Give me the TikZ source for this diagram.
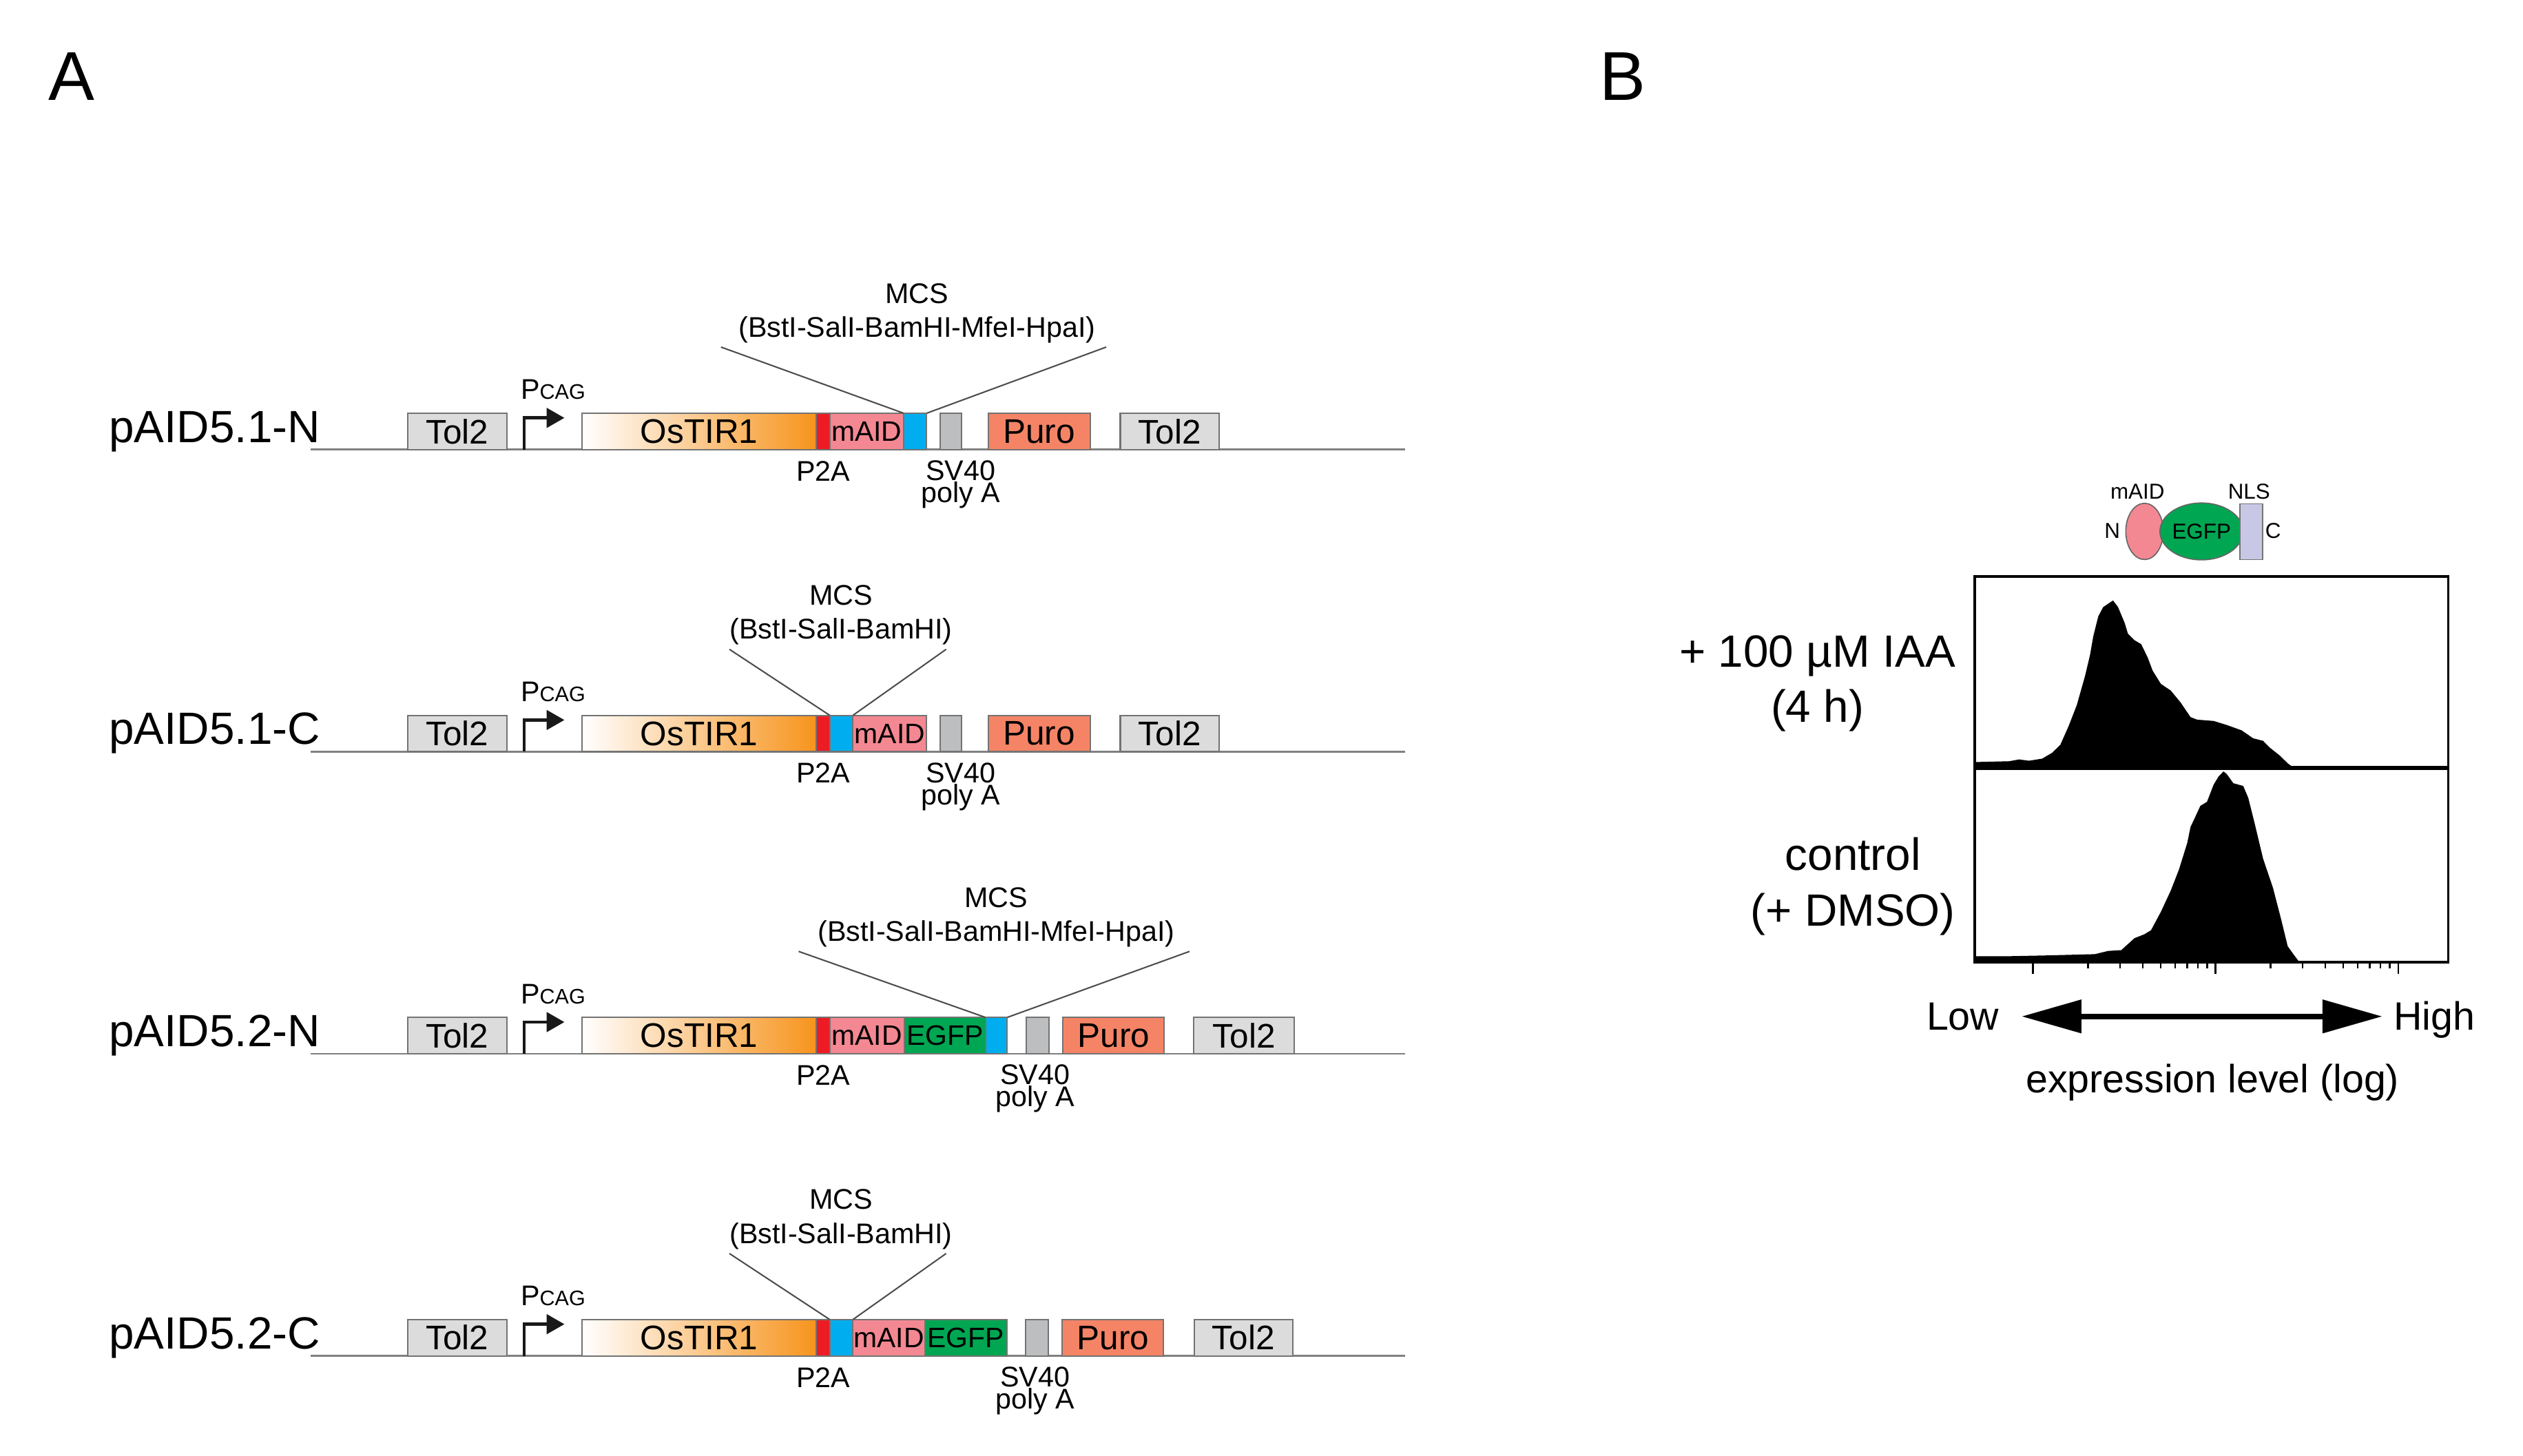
\documentclass[tikz,border=0pt]{standalone}
\usepackage{fontspec}
\setmainfont{Liberation Sans}
\usetikzlibrary{arrows.meta,shapes.geometric}
\definecolor{tolgray}{HTML}{DCDCDC}
\definecolor{tirorange}{HTML}{F7941D}
\definecolor{p2ared}{HTML}{ED1C24}
\definecolor{aidpink}{HTML}{F48892}
\definecolor{mcsblue}{HTML}{00AEEF}
\definecolor{svgray}{HTML}{BCBEC0}
\definecolor{puroorange}{HTML}{F58466}
\definecolor{gfpgreen}{HTML}{00A651}
\definecolor{nlsblue}{HTML}{C8C8E6}

\begin{document}
\begin{tikzpicture}[x=0.2mm, y=-0.2mm,
      every node/.style={inner sep=0pt, outer sep=0pt},
      part/.style={draw=black!55, line width=0.5pt, minimum height=4.5mm, anchor=south west,
        font=\fontsize{12}{14}\selectfont},
      bw/.style={minimum width=#1*0.2mm},
      tolbox/.style={part, fill=tolgray},
      tirbox/.style={part, left color=white, right color=tirorange},
      p2abox/.style={part, fill=p2ared},
      aidbox/.style={part, fill=aidpink, font=\fontsize{9.9}{11}\selectfont},
      gfpbox/.style={part, fill=gfpgreen, font=\fontsize{9.9}{11}\selectfont},
      mcsbox/.style={part, fill=mcsblue},
      svbox/.style={part, fill=svgray},
      purobox/.style={part, fill=puroorange},
      dna/.style={draw=black!50, line width=0.7pt},
      mcsline/.style={draw=black!70, line width=0.5pt},
      prom/.style={draw=black!90, line width=1.1pt, -{Triangle[length=2.2mm, width=2.4mm]}},
      rowname/.style={font=\fontsize{15.9}{19}\selectfont, anchor=base west},
      note/.style={font=\fontsize{10}{12}\selectfont, anchor=base},
      polya/.style={font=\fontsize{10}{7.74}\selectfont, align=center, anchor=north},
      lbl/.style={font=\fontsize{15.9}{19}\selectfont},
      axislbl/.style={font=\fontsize{13.9}{16}\selectfont},
      tinylbl/.style={font=\fontsize{7.6}{9}\selectfont},
      tickmark/.style={line width=0.6pt}
      ]
      \useasboundingbox (0,0) rectangle (1560,899.9);
      \node[font=\fontsize{24.3}{28}\selectfont, anchor=base] (panelA) at (44.4,61.8) {A};
      \node[font=\fontsize{24.3}{28}\selectfont, anchor=base] (panelB) at (1003.3,61.8) {B};

      \draw[dna] (192,278) -- (869,278);
      \node[rowname] (row1) at (67.5,273.5) {pAID5.1-N};
      \node[tolbox, bw=61.6] (tolL1) at (252,278) {Tol2};
      \draw[prom] (324,278) -- (324,258.4) -- (349,258.4);
      \node[note, anchor=base west] (pcag1) at (322,247) {P{\fontsize{7.4}{8}\selectfont CAG}};
      \node[tirbox, bw=144.6] (tir1) at (360,278) {OsTIR1};
      \node[p2abox, bw=8.4] (p2a1) at (504.6,278) {};
      \node[aidbox, bw=45.7] (aid1) at (513,278) {mAID};
      \node[mcsbox, bw=14.3] (mcs1) at (558.7,278) {};
      \node[svbox, bw=13.1] (sv1) at (581.5,278) {};
      \node[purobox, bw=63] (puro1) at (611,278) {Puro};
      \node[tolbox, bw=61] (tolR1) at (692.7,278) {Tol2};
      \node[note] (mcst1) at (567,187.4) {MCS};
      \node[note] (mcss1) at (567,208.4) {(BstI-SalI-BamHI-MfeI-HpaI)};
      \coordinate (mcsl1) at (445.8,214.6);
      \coordinate (mcsr1) at (684,214.6);
      \draw[mcsline] (mcsl1) -- (mcs1.north west);
      \draw[mcsline] (mcsr1) -- (mcs1.north east);
      \node[note] (p2at1) at (509,297.4) {P2A};
      \node[polya] (svt1) at (594,284.8) {SV40\\poly A};

      \draw[dna] (192,464.8) -- (869,464.8);
      \node[rowname] (row2) at (67.5,460.3) {pAID5.1-C};
      \node[tolbox, bw=61.6] (tolL2) at (252,464.8) {Tol2};
      \draw[prom] (324,464.8) -- (324,445.2) -- (349,445.2);
      \node[note, anchor=base west] (pcag2) at (322,433.8) {P{\fontsize{7.4}{8}\selectfont CAG}};
      \node[tirbox, bw=144.6] (tir2) at (360,464.8) {OsTIR1};
      \node[p2abox, bw=8.4] (p2a2) at (504.6,464.8) {};
      \node[mcsbox, bw=14.4] (mcs2) at (513,464.8) {};
      \node[aidbox, bw=45.6] (aid2) at (527.4,464.8) {mAID};
      \node[svbox, bw=13.1] (sv2) at (581.5,464.8) {};
      \node[purobox, bw=63] (puro2) at (611,464.8) {Puro};
      \node[tolbox, bw=61] (tolR2) at (692.7,464.8) {Tol2};
      \node[note] (mcst2) at (520,374.2) {MCS};
      \node[note] (mcss2) at (520,395.2) {(BstI-SalI-BamHI)};
      \coordinate (mcsl2) at (451,401.5);
      \coordinate (mcsr2) at (585,401.5);
      \draw[mcsline] (mcsl2) -- (mcs2.north west);
      \draw[mcsline] (mcsr2) -- (mcs2.north east);
      \node[note] (p2at2) at (509,484.2) {P2A};
      \node[polya] (svt2) at (594,471.6) {SV40\\poly A};

      \draw[dna] (192,651.6) -- (869,651.6);
      \node[rowname] (row3) at (67.5,647.1) {pAID5.2-N};
      \node[tolbox, bw=61.6] (tolL3) at (252,651.6) {Tol2};
      \draw[prom] (324,651.6) -- (324,632) -- (349,632);
      \node[note, anchor=base west] (pcag3) at (322,620.6) {P{\fontsize{7.4}{8}\selectfont CAG}};
      \node[tirbox, bw=144.6] (tir3) at (360,651.6) {OsTIR1};
      \node[p2abox, bw=8.4] (p2a3) at (504.6,651.6) {};
      \node[aidbox, bw=46] (aid3) at (513,651.6) {mAID};
      \node[gfpbox, bw=50.3] (gfp3) at (559,651.6) {EGFP};
      \node[mcsbox, bw=13.5] (mcs3) at (609.3,651.6) {};
      \node[svbox, bw=14.1] (sv3) at (634.5,651.6) {};
      \node[purobox, bw=62.5] (puro3) at (657.3,651.6) {Puro};
      \node[tolbox, bw=62] (tolR3) at (738.2,651.6) {Tol2};
      \node[note] (mcst3) at (616,561) {MCS};
      \node[note] (mcss3) at (616,582) {(BstI-SalI-BamHI-MfeI-HpaI)};
      \coordinate (mcsl3) at (493.8,588.3);
      \coordinate (mcsr3) at (735.5,588.3);
      \draw[mcsline] (mcsl3) -- (mcs3.north west);
      \draw[mcsline] (mcsr3) -- (mcs3.north east);
      \node[note] (p2at3) at (509,671) {P2A};
      \node[polya] (svt3) at (640,658.4) {SV40\\poly A};

      \draw[dna] (192,838.4) -- (869,838.4);
      \node[rowname] (row4) at (67.5,833.9) {pAID5.2-C};
      \node[tolbox, bw=61.6] (tolL4) at (252,838.4) {Tol2};
      \draw[prom] (324,838.4) -- (324,818.8) -- (349,818.8);
      \node[note, anchor=base west] (pcag4) at (322,807.4) {P{\fontsize{7.4}{8}\selectfont CAG}};
      \node[tirbox, bw=144.6] (tir4) at (360,838.4) {OsTIR1};
      \node[p2abox, bw=8.4] (p2a4) at (504.6,838.4) {};
      \node[mcsbox, bw=14.4] (mcs4) at (513,838.4) {};
      \node[aidbox, bw=44.4] (aid4) at (527.4,838.4) {mAID};
      \node[gfpbox, bw=50.8] (gfp4) at (571.8,838.4) {EGFP};
      \node[svbox, bw=14.2] (sv4) at (634,838.4) {};
      \node[purobox, bw=62.7] (puro4) at (656.8,838.4) {Puro};
      \node[tolbox, bw=61] (tolR4) at (738.3,838.4) {Tol2};
      \node[note] (mcst4) at (520,747.8) {MCS};
      \node[note] (mcss4) at (520,768.8) {(BstI-SalI-BamHI)};
      \coordinate (mcsl4) at (451,775.1);
      \coordinate (mcsr4) at (585,775.1);
      \draw[mcsline] (mcsl4) -- (mcs4.north west);
      \draw[mcsline] (mcsr4) -- (mcs4.north east);
      \node[note] (p2at4) at (509,857.8) {P2A};
      \node[polya] (svt4) at (640,845.2) {SV40\\poly A};

      \node[tinylbl] (aidtop) at (1321.6,304) {mAID};
      \node[tinylbl] (nlstop) at (1390.6,304) {NLS};
      \node[tinylbl] (nterm) at (1306,328.4) {N};
      \node[tinylbl] (cterm) at (1405.5,328.4) {C};
      \node[ellipse, draw=black!60, fill=aidpink, minimum width=23.2*0.2mm, minimum height=34.8*0.2mm] (paid) at (1326,328.6) {};
      \node[ellipse, draw=black!60, fill=gfpgreen, minimum width=47.2*0.2mm, minimum height=35.2*0.2mm, tinylbl] (pgfp) at (1361.2,328.6) {EGFP};
      \node[draw=black!55, fill=nlsblue, minimum width=14.2*0.2mm, minimum height=34.5*0.2mm, anchor=north west] (pnls) at (1384.9,311.6) {};

      \fill (1221.9,475) -- (1221.9,471.2) -- (1242.3,470.7) -- (1248.4,469.6) -- (1254.6,470.4)
        -- (1262.7,469.1) -- (1268.8,465.5) -- (1273.9,460.6) -- (1279,449.1) -- (1284.1,436)
        -- (1289.2,418) -- (1292.3,404.9) -- (1294.3,393.4) -- (1297.4,381.1) -- (1300.4,375.4)
        -- (1306.5,371.3) -- (1309.6,375.4) -- (1313.7,385.2) -- (1315.7,391.8) -- (1319.8,395.9)
        -- (1323.9,398.3) -- (1327.9,406.5) -- (1331,414.7) -- (1336.1,422.9) -- (1342.2,427)
        -- (1348.3,434.4) -- (1354.4,443.4) -- (1358.5,445) -- (1368.7,445.8) -- (1376.8,448.3)
        -- (1386,451.6) -- (1393.1,456.5) -- (1399.3,458.1) -- (1403.3,462.2) -- (1409.5,467.1)
        -- (1414.5,472) -- (1418.6,475) -- cycle;
      \fill (1221.9,594.9) -- (1221.9,591.3) -- (1240.3,591.3) -- (1264.8,590.8) -- (1295.3,590)
        -- (1303.5,588) -- (1311.6,587.5) -- (1319.8,580.1) -- (1325.9,577.7) -- (1330,575.2)
        -- (1336.1,563.8) -- (1342.2,550.7) -- (1347.3,537.6) -- (1352.4,521.2) -- (1354.4,511.4)
        -- (1357.5,504.8) -- (1360.5,498.3) -- (1364.6,495.8) -- (1368.7,485.2) -- (1371.7,480.2)
        -- (1374.8,477) -- (1376.8,478.6) -- (1380.9,484.3) -- (1387,486) -- (1390.1,493.3)
        -- (1394.2,509.7) -- (1399.3,531) -- (1405.4,549) -- (1410.5,568.7) -- (1414.5,585.1)
        -- (1418.6,590.8) -- (1421.7,594.9) -- cycle;
      \node[draw, line width=0.9pt, minimum width=292.8*0.2mm, minimum height=238.3*0.2mm, anchor=north west] (hbox) at (1221,356.6) {};
      \draw[line width=1.4pt] (hbox.west |- 0,475) -- (hbox.east |- 0,475);
      \foreach \t in {0,1,2} \draw[tickmark] ({1257+112.9*\t},594.9) -- ++(0,7.4);
      \foreach \t in {0,1} \foreach \k in {2,...,9} \draw[tickmark] ({1257+112.9*(\t+log10(\k))},594.9) -- ++(0,4);

      \node[lbl, anchor=base east] (iaa) at (1209,412.4) {+ 100 µM IAA};
      \node[lbl, anchor=base] (iaatime) at ([yshift=-6.8mm]iaa.base) {(4 h)};
      \node[lbl, anchor=base east] (dmso) at (1209,572.8) {(+ DMSO)};
      \node[lbl, anchor=base] (ctrl) at ([yshift=6.96mm]dmso.base) {control};

      \coordinate (lowtip) at (1250,628.5);
      \coordinate (hightip) at (1473,628.5);
      \draw[line width=2pt, {Triangle[length=7.4mm, width=4mm]}-{Triangle[length=7.4mm, width=4mm]}] (lowtip) -- (hightip);
      \node[axislbl, anchor=base east] (low) at (1236,637) {Low};
      \node[axislbl, anchor=base west] (high) at (1480,637) {High};
      \node[axislbl, anchor=base] (xlabel) at (1368,675.5) {expression level (log)};
    \end{tikzpicture}
\end{document}
